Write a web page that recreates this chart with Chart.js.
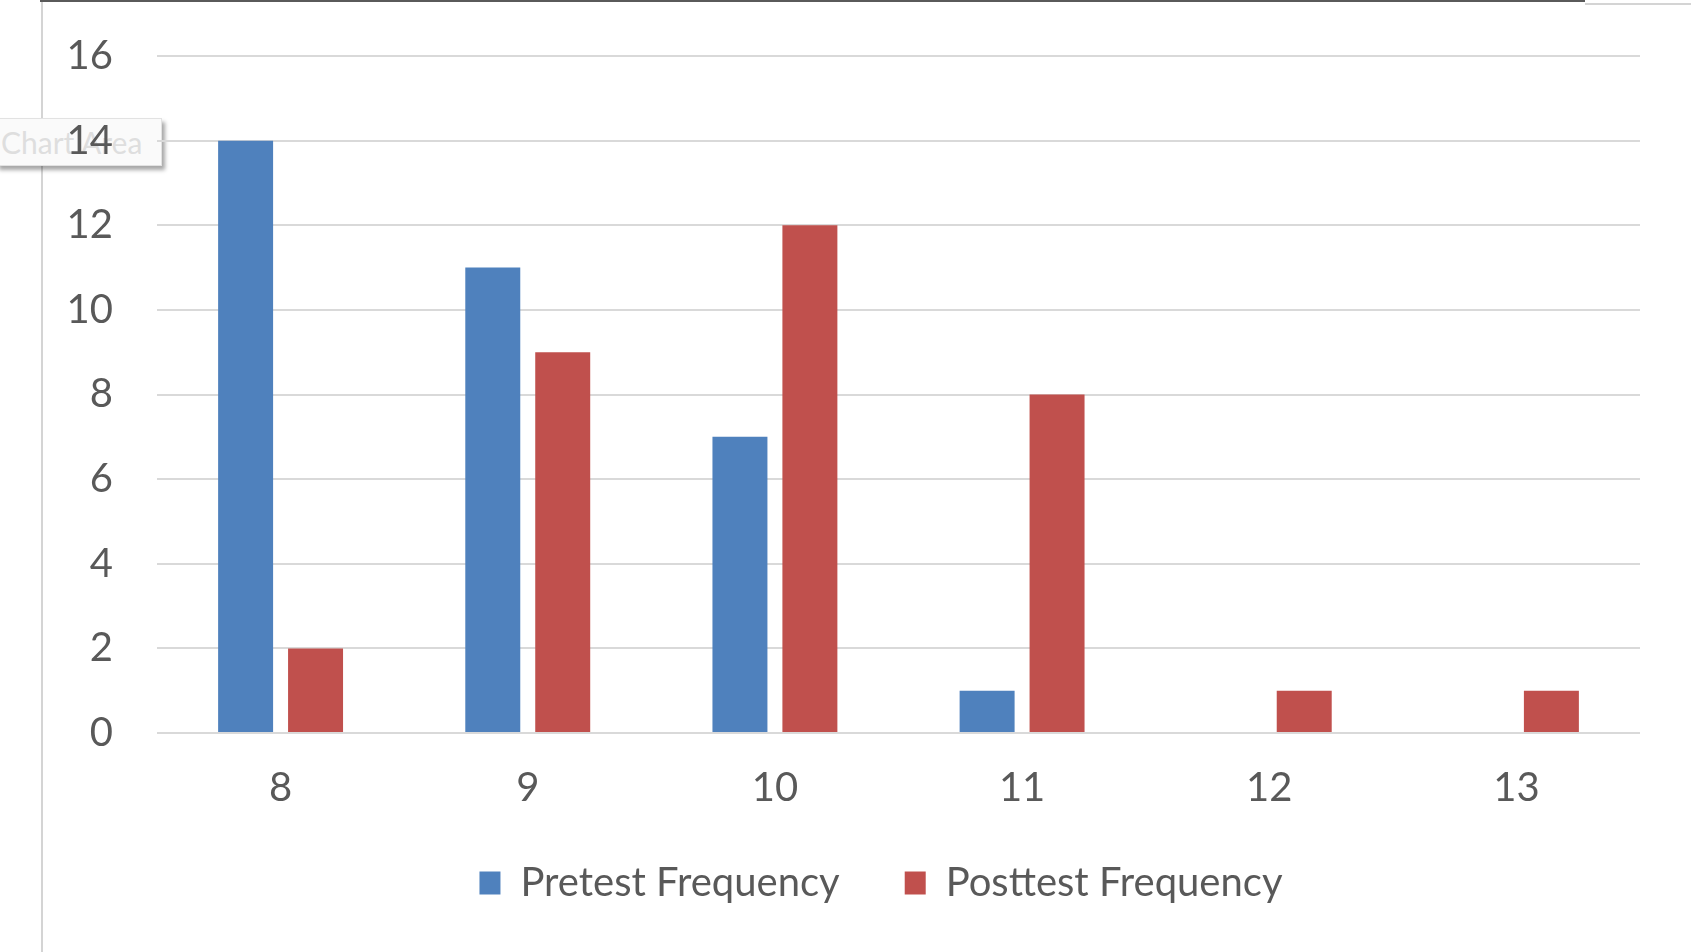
<!DOCTYPE html>
<html>
<head>
<meta charset="utf-8">
<title>Pretest vs Posttest Frequency</title>
<script src="https://cdn.jsdelivr.net/npm/chart.js@4.4.1/dist/chart.umd.min.js"></script>
<style>
    html, body { margin: 0; padding: 0; background: #fff; overflow: hidden; }
    #wrap { position: relative; width: 1691px; height: 952px; }
    #barChart { position: absolute; left: 0; top: 0; z-index: 2; }
    .edgeTop { position: absolute; left: 40px; top: 0; width: 1545px; height: 2px; background: #5a5a5a; }
    .edgeTop2 { position: absolute; left: 1585px; top: 3px; width: 106px; height: 2px; background: #d4d4d4; }
    .edgeLeft { position: absolute; left: 41px; top: 2px; width: 2px; height: 950px; background: #d4d4d4; }
    .tip {
        position: absolute; left: -4px; top: 118px; width: 166px; height: 48px;
        background: #fafafa; border: 1px solid #e2e2e2; z-index: 1;
        box-shadow: 3px 4px 4px rgba(0,0,0,0.35);
        font-family: Lato, sans-serif; font-size: 30px; color: #dedede;
        line-height: 46px; padding-left: 4px; box-sizing: border-box;
    }
</style>
</head>
<body>
<div id="wrap">
    <div class="edgeTop"></div>
    <div class="edgeTop2"></div>
    <div class="edgeLeft"></div>
    <div class="tip">Chart Area</div>
    <canvas id="barChart" width="1691" height="952"></canvas>
</div>
<script>
// chart data
const categories = ['8', '9', '10', '11', '12', '13'];
const pretest = [14, 11, 7, 1, 0, 0];
const posttest = [2, 9, 12, 8, 1, 1];
const yTicks = [0, 2, 4, 6, 8, 10, 12, 14, 16];

const textColor = '#595959';
const gridColor = '#d9d9d9';

const ctxBar = document.getElementById('barChart').getContext('2d');
new Chart(ctxBar, {
    type: 'bar',
    data: {
        labels: categories,
        datasets: [
            {
                label: 'Pretest Frequency',
                data: pretest,
                backgroundColor: '#4f81bd',
                categoryPercentage: 0.566,
                barPercentage: 0.786
            },
            {
                label: 'Posttest Frequency',
                data: posttest,
                backgroundColor: '#c0504d',
                categoryPercentage: 0.566,
                barPercentage: 0.786
            }
        ]
    },
    options: {
        responsive: false,
        animation: false,
        layout: {
            padding: { top: 56, right: 51, bottom: 39, left: 0 }
        },
        plugins: {
            tooltip: { enabled: false },
            legend: {
                position: 'bottom',
                fullSize: false,
                labels: {
                    color: textColor,
                    font: { family: 'Lato', size: 40 },
                    boxWidth: 21,
                    boxHeight: 23,
                    padding: 10,
                    // wider gap between the two entries, like the Excel legend
                    generateLabels: (chart) => {
                        const items = Chart.defaults.plugins.legend.labels.generateLabels(chart);
                        items.forEach((item, i) => {
                            if (i < items.length - 1) item.text = item.text + '\u2003\u2002\u2009';
                            else item.text = item.text + '\u2003\u2009';
                        });
                        return items;
                    }
                }
            }
        },
        scales: {
            x: {
                grid: { display: false, drawTicks: false },
                border: { display: false },
                ticks: {
                    color: textColor,
                    font: { family: 'Lato', size: 40 },
                    padding: 31
                },
                afterFit: (axis) => { axis.height = 120; }
            },
            y: {
                min: 0,
                max: 16,
                afterBuildTicks: (axis) => {
                    axis.ticks = yTicks.map(v => ({ value: v }));
                },
                grid: {
                    color: gridColor,
                    lineWidth: 2,
                    drawTicks: true,
                    tickLength: 40,
                    tickColor: 'rgba(0,0,0,0)'
                },
                border: { display: false },
                ticks: {
                    color: textColor,
                    font: { family: 'Lato', size: 40 },
                    padding: 4
                },
                afterFit: (axis) => { axis.width = 157; }
            }
        }
    }
});
</script>
</body>
</html>
